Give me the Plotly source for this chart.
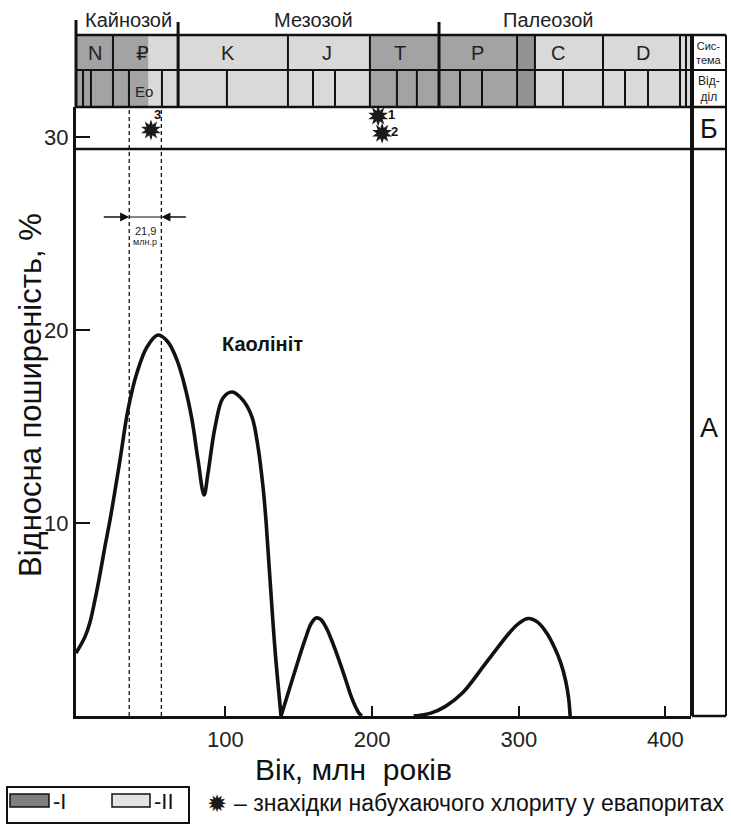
import plotly.graph_objects as go

# ---------------- data ----------------
# kaolinite relative abundance curve (age in Myr, %)
seg1_age = [-1.9, 4.2, 7.6, 11.0, 14.5, 17.9, 21.3, 28.1, 33.5, 39.6, 46.5, 54.0, 60.8, 66.9, 72.4, 77.2,
            81.3, 85.4, 88.1, 92.9, 98.3, 104.5, 111.9, 118.1, 122.2, 125.6, 127.6, 130.4, 133.8, 137.9]
seg1_pct = [3.26, 4.1, 4.85, 6.0, 7.36, 8.81, 10.16, 13.26, 15.85, 17.77, 19.12, 19.74, 19.38, 18.45,
            17.05, 15.34, 13.26, 11.45, 12.59, 14.97, 16.48, 16.79, 16.37, 15.49, 13.94, 11.87, 10.16,
            7.05, 3.42, 0.0]
seg2_age = [137.9, 144.0, 149.5, 154.2, 158.3, 161.7, 165.0, 168.5, 172.0, 175.5, 179.0, 182.5, 185.5,
            188.5, 191.0, 193.0]
seg2_pct = [0.0, 1.5, 2.85, 3.94, 4.77, 5.08, 5.0, 4.6, 4.0, 3.3, 2.55, 1.75, 1.05, 0.5, 0.15, 0.0]
seg3_age = [228.3, 240.0, 250.0, 261.7, 277.6, 293.5, 300.0, 306.5, 313.0, 319.0, 324.0, 328.6, 332.0, 334.0, 335.0]
seg3_pct = [0.0, 0.15, 0.5, 1.2, 2.75, 4.3, 4.8, 5.05, 4.85, 4.3, 3.6, 2.75, 1.8, 0.9, 0.0]

x_ticks = [100, 200, 300, 400]
y_ticks = [10, 20, 30]

# Eocene bounds (dashed lines), 21.9 Myr
eocene_bounds = [34.4, 56.3]

# stratigraphic column
era_names = ["Кайнозой", "Мезозой", "Палеозой"]
era_label_age = [33.6, 159.7, 319.9]
era_bounds = [67.7, 245.6]

system_lines = [23.3, 67.7, 142.6, 198.5, 245.6, 298.8, 311.0, 357.4, 409.9, 414.0]
system_names = ["N", "₽", "K", "J", "T", "P", "C", "D"]
system_label_age = [11.1, 43.4, 101.9, 169.0, 219.0, 271.5, 326.7, 384.7]
series_lines = [2.9, 8.3, 23.3, 34.2, 56.7, 67.7, 101.0, 142.6, 159.7, 174.7, 198.5, 216.9, 230.5,
                245.6, 259.9, 274.9, 298.8, 311.0, 330.1, 357.4, 372.4, 388.1, 409.9, 414.0]
series_label = ["Eo"]
series_label_age = [44.4]
# shading: I = dark, II = light, Id = darker
shade_edges = [-1.9, 47.6, 198.5, 298.8, 311.0, 417.4]
shade_class = ["I", "II", "I", "Id", "II"]

# swelling chlorite finds in evaporites
chlorite_age = [49.2, 204.1, 206.8]
chlorite_pct = [30.36, 31.09, 30.2]
chlorite_id = ["3", "1", "2"]

# ---------------- layout helpers ----------------
W, H = 731, 825
L, R, T, B = 76, 691, 107, 716
X0, X1 = -1.9, 417.4
Y0, Y1 = 0, (B - T) / 19.3
FONT = "Liberation Sans, Arial, sans-serif"
INK = "#111111"
SHADE = {"I": "#a3a3a3", "II": "#d9d9d9", "Id": "#939393"}
LABEL_SHIFT = {"3": (7, 16), "1": (13, 1), "2": (12, 2)}


def xp(px):
    return (px - L) / (R - L)


def yp(py):
    return (B - py) / (B - T)


def xa(age):
    return (age - X0) / (X1 - X0)


fig = go.Figure()

for xs, ys in [(seg1_age, seg1_pct), (seg2_age, seg2_pct), (seg3_age, seg3_pct)]:
    fig.add_trace(go.Scatter(x=xs, y=ys, mode="lines",
                             line=dict(color=INK, width=3.6, shape="spline", smoothing=1.0),
                             hoverinfo="skip", showlegend=False))

# burst-like star markers (two rotated 5-point stars)
for ang in (0, 36):
    fig.add_trace(go.Scatter(x=chlorite_age, y=chlorite_pct, mode="markers",
                             marker=dict(symbol="star", size=15, angle=ang, color="#1a1a1a",
                                         line=dict(width=0)),
                             cliponaxis=False, showlegend=False, hoverinfo="skip"))

shapes = []
ann = []


def line(x0, y0, x1, y1, w=2, dash=None, xref="paper", yref="paper"):
    d = dict(type="line", xref=xref, yref=yref, x0=x0, y0=y0, x1=x1, y1=y1,
             line=dict(color=INK, width=w))
    if dash:
        d["line"]["dash"] = dash
    shapes.append(d)


def text(x, y, s, size, xref="paper", yref="paper", xanchor="center", bold=False, family=FONT,
         color=INK, angle=0, xshift=0, yshift=0):
    ann.append(dict(x=x, y=y, xref=xref, yref=yref, text=f"<b>{s}</b>" if bold else s,
                    showarrow=False, xanchor=xanchor, yanchor="middle", textangle=angle,
                    xshift=xshift, yshift=yshift,
                    font=dict(size=size, family=family, color=color)))


# header shading
for (r0, r1) in [(35, 70), (70, 107)]:
    for i, cls in enumerate(shade_class):
        shapes.append(dict(type="rect", xref="paper", yref="paper",
                           x0=xa(shade_edges[i]), x1=xa(shade_edges[i + 1]),
                           y0=yp(r1), y1=yp(r0), fillcolor=SHADE[cls], line=dict(width=0), layer="below"))

for a in system_lines:
    line(xa(a), yp(70), xa(a), yp(35), 2)
for a in series_lines:
    line(xa(a), yp(107), xa(a), yp(70), 2)
for a in era_bounds:
    line(xa(a), yp(107), xa(a), yp(22), 3)

# horizontal frame lines
for yy, w in [(35, 2.5), (70, 2), (107, 2.5), (149, 2.5)]:
    line(xp(L), yp(yy), xp(726), yp(yy), w)
line(xp(L), yp(20), xp(L), yp(107), 3)
line(xp(692), yp(35), xp(692), yp(B), 4)
line(xp(726), yp(35), xp(726), yp(B), 2)
line(xp(692), yp(B), xp(726), yp(B), 2.5)

# dashed Eocene lines
for a in eocene_bounds:
    line(a, 0, a, 1, 1.3, dash="4px,3px", xref="x")

# 21.9 arrows
line(eocene_bounds[0], yp(217), eocene_bounds[1], yp(217), 1.2, xref="x")
ann.append(dict(x=eocene_bounds[0], y=yp(217), xref="x", yref="paper", ax=-27, ay=0, text="",
                showarrow=True, arrowhead=2, arrowsize=1.4, arrowwidth=1.3, arrowcolor=INK))
ann.append(dict(x=eocene_bounds[1], y=yp(217), xref="x", yref="paper", ax=26, ay=0, text="",
                showarrow=True, arrowhead=2, arrowsize=1.4, arrowwidth=1.3, arrowcolor=INK))
mid = (eocene_bounds[0] + eocene_bounds[1]) / 2
diff = eocene_bounds[1] - eocene_bounds[0]
text(mid, yp(231), f"{diff:.1f}".replace(".", ","), 11, xref="x", color="#222")
text(mid, yp(242), "млн.р", 9, xref="x", color="#222")

# header texts
for name, a in zip(era_names, era_label_age):
    text(xa(a), yp(20), name, 20, color="#222")
for name, a in zip(system_names, system_label_age):
    text(xa(a), yp(53), name, 20, color="#222", family=FONT if name != "₽" else "DejaVu Sans")
for name, a in zip(series_label, series_label_age):
    text(xa(a), yp(92), name, 15, color="#222")

text(xp(709), yp(53), "Сис-<br>тема", 11, color="#222")
text(xp(709), yp(89), "Від-<br>діл", 12, color="#222")
text(xp(709), yp(129), "Б", 27)
text(xp(709), yp(428), "А", 27)

# chlorite labels
for a, v, lab in zip(chlorite_age, chlorite_pct, chlorite_id):
    dx, dy = LABEL_SHIFT[lab]
    text(a, v, lab, 13, xref="x", yref="y", bold=True, xshift=dx, yshift=dy)

text(96.3, 19.3, "Каолініт", 20, xref="x", yref="y", xanchor="left", bold=True)

# axis titles
text(xp(353), yp(769), "Вік, млн\u00a0 років", 30)
text(xp(30), yp(395), "Відносна поширеність, %", 31, angle=-90)

# bottom legend
shapes.append(dict(type="rect", xref="paper", yref="paper", x0=xp(7), x1=xp(189), y0=yp(823), y1=yp(787),
                   line=dict(color=INK, width=2), fillcolor="rgba(0,0,0,0)"))
shapes.append(dict(type="rect", xref="paper", yref="paper", x0=xp(10), x1=xp(49), y0=yp(807), y1=yp(794),
                   line=dict(color=INK, width=1.5), fillcolor="#7f7f7f"))
shapes.append(dict(type="rect", xref="paper", yref="paper", x0=xp(112), x1=xp(150), y0=yp(807), y1=yp(794),
                   line=dict(color=INK, width=1.5), fillcolor="#e3e3e3"))
text(xp(51), yp(801), "-I", 22, xanchor="left")
text(xp(152), yp(801), "-II", 22, xanchor="left")
text(xp(217), yp(804), "✹", 24, family="DejaVu Sans", color="#1a1a1a")
text(xp(232), yp(803), "– знахідки набухаючого хлориту у евапоритах", 23, xanchor="left")

fig.update_layout(
    width=W, height=H,
    margin=dict(l=L, r=W - R, t=T, b=H - B),
    paper_bgcolor="white", plot_bgcolor="white",
    showlegend=False,
    shapes=shapes, annotations=ann,
    xaxis=dict(range=[X0, X1], showline=True, linecolor=INK, linewidth=3, ticks="inside",
               ticklen=10, tickwidth=2, tickcolor=INK, tickvals=x_ticks, showgrid=False,
               zeroline=False, tickfont=dict(size=22, family=FONT, color="#222"), ticklabelstandoff=2),
    yaxis=dict(range=[Y0, Y1], showline=True, linecolor=INK, linewidth=3, ticks="inside",
               ticklen=14, tickwidth=2, tickcolor=INK, tickvals=y_ticks, showgrid=False,
               zeroline=False, tickfont=dict(size=22, family=FONT, color="#222")),
)

fig.write_html("out.html")
